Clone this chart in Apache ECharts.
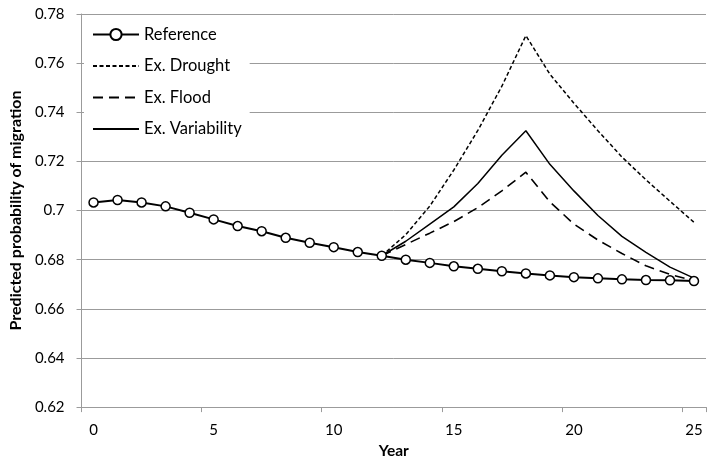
<!DOCTYPE html>
<html>
<head>
<meta charset="utf-8">
<script src="https://cdn.jsdelivr.net/npm/echarts@6/dist/echarts.min.js"></script>
<style>
html,body{margin:0;padding:0;background:#fff;}
#chart{width:714px;height:464px;}
</style>
</head>
<body>
<div id="chart"></div>
<script>
var years = ['0','1','2','3','4','5','6','7','8','9','10','11','12','13','14','15','16','17','18','19','20','21','22','23','24','25'];
var reference = [0.7033,0.7043,0.7033,0.7017,0.6991,0.6964,0.6937,0.6916,0.6889,0.6869,0.6851,0.6831,0.6816,0.6800,0.6787,0.6773,0.6763,0.6753,0.6744,0.6736,0.6729,0.6724,0.6720,0.6717,0.6716,0.6713];
var drought = [null,null,null,null,null,null,null,null,null,null,null,null,0.6816,0.6902,0.7018,0.7165,0.7326,0.7506,0.7712,0.7555,0.7437,0.7325,0.7218,0.7125,0.7038,0.6952];
var flood = [null,null,null,null,null,null,null,null,null,null,null,null,0.6816,0.6862,0.6908,0.6955,0.7012,0.7080,0.7156,0.7035,0.6945,0.6880,0.6825,0.6775,0.6740,0.6715];
var variability = [null,null,null,null,null,null,null,null,null,null,null,null,0.6816,0.6875,0.6945,0.7015,0.7110,0.7225,0.7325,0.7188,0.7080,0.6980,0.6895,0.6830,0.6770,0.6725];
var seriesNames = ['Reference','Ex. Drought','Ex. Flood','Ex. Variability'];
var yMin = 0.62, yMax = 0.78, yStep = 0.02;

var FONT = 'Lato';
var GRID = '#9b9b9b';
var noMark = {color:'transparent', borderColor:'transparent', borderWidth:0};
var chart = echarts.init(document.getElementById('chart'), null, {renderer:'canvas'});
chart.setOption({
  animation:false,
  backgroundColor:'#fff',
  grid:{left:79, right:8, top:14, bottom:50, containLabel:false},
  legend:{
    data:[
      {name:seriesNames[0]},
      {name:seriesNames[1], itemStyle:noMark},
      {name:seriesNames[2], itemStyle:noMark},
      {name:seriesNames[3], itemStyle:noMark}
    ],
    orient:'vertical',
    left:84, top:20,
    padding:[6,8,8,8],
    backgroundColor:'#fff',
    itemWidth:46, itemHeight:14, itemGap:14.5,
    textStyle:{fontFamily:FONT, fontSize:16.5, color:'#000'}
  },
  xAxis:{
    type:'category', data:years, boundaryGap:true,
    name:'Year', nameLocation:'middle', nameGap:28,
    nameTextStyle:{fontFamily:FONT, fontSize:15.5, fontWeight:'bold', color:'#000'},
    axisLine:{lineStyle:{color:GRID, width:1}},
    axisTick:{show:true, interval:4, length:5, lineStyle:{color:GRID}},
    axisLabel:{interval:4, margin:16, fontFamily:FONT, fontSize:15, color:'#000'},
    splitLine:{show:false}
  },
  yAxis:{
    type:'value', min:yMin, max:yMax, interval:yStep,
    name:'Predicted probability of migration', nameLocation:'middle', nameGap:56,
    nameTextStyle:{fontFamily:FONT, fontSize:16, fontWeight:'bold', color:'#000'},
    axisLine:{show:true, lineStyle:{color:GRID, width:1}},
    axisTick:{show:true, length:5, lineStyle:{color:GRID}},
    axisLabel:{margin:17, fontFamily:FONT, fontSize:15, color:'#000',
      formatter:function(v){return String(+v.toFixed(2));}},
    splitLine:{show:true, lineStyle:{color:GRID, width:1}}
  },
  series:[
    {name:'Ex. Drought', type:'line', data:drought, symbol:'none', z:2,
     lineStyle:{color:'#000', width:1.5, type:[4,2.5]}, itemStyle:noMark},
    {name:'Ex. Flood', type:'line', data:flood, symbol:'none', z:2,
     lineStyle:{color:'#000', width:1.6, type:[10,6]}, itemStyle:noMark},
    {name:'Ex. Variability', type:'line', data:variability, symbol:'none', z:2,
     lineStyle:{color:'#000', width:1.5, type:'solid'}, itemStyle:noMark},
    {name:'Reference', type:'line', data:reference, symbol:'circle', symbolSize:9, z:3,
     lineStyle:{color:'#000', width:2}, itemStyle:{color:'#fff', borderColor:'#000', borderWidth:1.5}}
  ]
});
</script>
</body>
</html>
